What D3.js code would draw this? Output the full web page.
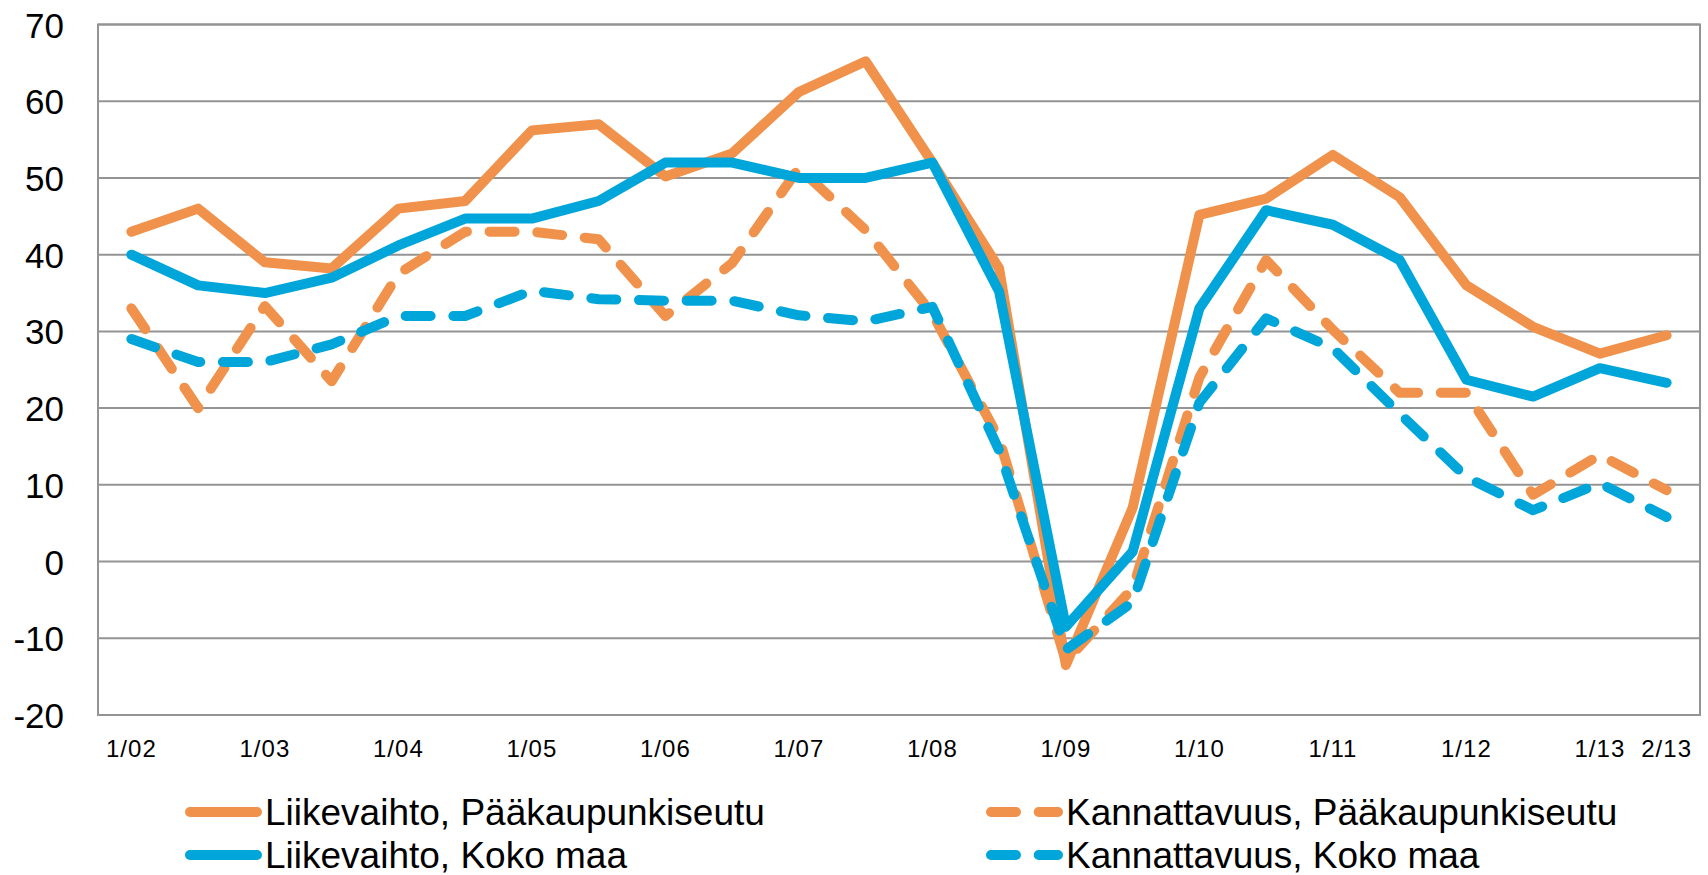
<!DOCTYPE html>
<html>
<head>
<meta charset="utf-8">
<script src="https://cdn.jsdelivr.net/npm/d3@7"></script>
<style>
  html, body { margin: 0; padding: 0; background: #ffffff; }
  svg { display: block; }
  text { font-family: "Liberation Sans", Arial, sans-serif; fill: #000; }
</style>
</head>
<body>
<svg id="chart" width="1708" height="875"></svg>
<script>
// ---- data ----
const categories = ["1/02","2/02","1/03","2/03","1/04","2/04","1/05","2/05","1/06","2/06",
  "1/07","2/07","1/08","2/08","1/09","2/09","1/10","2/10","1/11","2/11","1/12","2/12","1/13","2/13"];
const tickLabels = ["1/02","1/03","1/04","1/05","1/06","1/07","1/08","1/09","1/10","1/11","1/12","1/13","2/13"];
const yTicks = [-20, -10, 0, 10, 20, 30, 40, 50, 60, 70];

const liikevaihtoPK = [43, 46, 39, 38.2, 46, 47, 56.2, 57, 50.2, 53.2, 61.2, 65.2, 52, 38.2, -13.5, 7, 45.2, 47.3, 53, 47.5, 36, 30.6, 27.1, 29.5];
const kannattavuusPK = [33, 20, 33.3, 23.5, 37.5, 43, 43, 42, 32, 38.9, 51.3, 43.2, 32.3, 16, -13, -3.5, 24, 39.3, 30.2, 22, 22, 8.7, 13.9, 9.3];
const liikevaihtoKM = [40, 36, 35, 37, 41.2, 44.7, 44.7, 47, 52, 52, 50, 50, 52, 35.2, -8.5, 1.3, 33, 45.8, 43.9, 39.3, 23.7, 21.5, 25.2, 23.3];
const kannattavuusKM = [29, 26, 26, 28.3, 32, 32, 35.3, 34.2, 34, 34, 32.1, 31.3, 33.2, 14.5, -11.5, -5.3, 20.7, 31.7, 27.8, 19.3, 11, 6.7, 10.2, 5.8];

const seriesNames = ["Liikevaihto, Pääkaupunkiseutu", "Kannattavuus, Pääkaupunkiseutu", "Liikevaihto, Koko maa", "Kannattavuus, Koko maa"];

(function () {
const ORANGE = "#F0924B", BLUE = "#00A6DA";
const series = [
  { name: seriesNames[0], values: liikevaihtoPK, color: ORANGE, dashed: false },
  { name: seriesNames[1], values: kannattavuusPK, color: ORANGE, dashed: true },
  { name: seriesNames[2], values: liikevaihtoKM, color: BLUE, dashed: false },
  { name: seriesNames[3], values: kannattavuusKM, color: BLUE, dashed: true }
];

// ---- layout ----
const pL = 98, pR = 1700, pT = 24.5, pB = 715;
const svg = d3.select("#chart");

const x = d3.scaleBand().domain(categories).range([pL, pR]).paddingInner(0).paddingOuter(0);
const y = d3.scaleLinear().domain([-20, 70]).range([pB, pT]);
const cx = c => x(c) + x.bandwidth() / 2;

const GRID = "#949494";

// gridlines
svg.append("g")
  .selectAll("line")
  .data(yTicks)
  .join("line")
  .attr("x1", pL).attr("x2", pR)
  .attr("y1", d => y(d)).attr("y2", d => y(d))
  .attr("stroke", GRID).attr("stroke-width", 2);

// plot border
svg.append("rect")
  .attr("x", pL).attr("y", pT)
  .attr("width", pR - pL).attr("height", pB - pT)
  .attr("fill", "none").attr("stroke", GRID).attr("stroke-width", 2);

// y axis labels (hyphen-minus as in the original)
const yAxis = d3.axisLeft(y).tickValues(yTicks).tickSize(0).tickPadding(0).tickFormat(d => String(d));
const gy = svg.append("g").attr("transform", `translate(${pL - 34},0)`).call(yAxis);
gy.select(".domain").remove();
gy.selectAll("text")
  .attr("font-family", "Liberation Sans, Arial, sans-serif")
  .attr("font-size", 35)
  .attr("fill", "#000")
  .attr("dy", "0.36em");

// x axis labels
const xAxis = d3.axisBottom(x).tickSize(0).tickPadding(0)
  .tickFormat(d => tickLabels.includes(d) ? d : "");
const gx = svg.append("g").attr("transform", `translate(0,${pB})`).call(xAxis);
gx.select(".domain").remove();
gx.selectAll("text")
  .attr("font-family", "Liberation Sans, Arial, sans-serif")
  .attr("font-size", 24)
  .attr("letter-spacing", "1px")
  .attr("fill", "#000")
  .attr("y", 42)
  .attr("dy", 0);

// lines
const line = d3.line()
  .x((d, i) => cx(categories[i]))
  .y(d => y(d));

const DASH = "25,22.7";
svg.append("g")
  .selectAll("path")
  .data(series)
  .join("path")
  .attr("d", s => line(s.values))
  .attr("fill", "none")
  .attr("stroke", s => s.color)
  .attr("stroke-width", 10)
  .attr("stroke-linejoin", "round")
  .attr("stroke-linecap", "round")
  .attr("stroke-dasharray", s => s.dashed ? DASH : null);

// legend
const legendPos = [
  { x: 190, y: 812 }, { x: 991, y: 812 },
  { x: 190, y: 855 }, { x: 991, y: 855 }
];
const lg = svg.append("g")
  .selectAll("g")
  .data(series)
  .join("g")
  .attr("transform", (s, i) => `translate(${legendPos[i].x},${legendPos[i].y})`);
lg.append("line")
  .attr("x1", 0).attr("x2", 67).attr("y1", 0).attr("y2", 0)
  .attr("stroke", s => s.color)
  .attr("stroke-width", 10)
  .attr("stroke-linecap", "round")
  .attr("stroke-dasharray", s => s.dashed ? DASH : null);
lg.append("text")
  .attr("x", 75)
  .attr("y", 0)
  .attr("dy", "0.36em")
  .attr("font-size", 37)
  .text(s => s.name);
})();
</script>
</body>
</html>
